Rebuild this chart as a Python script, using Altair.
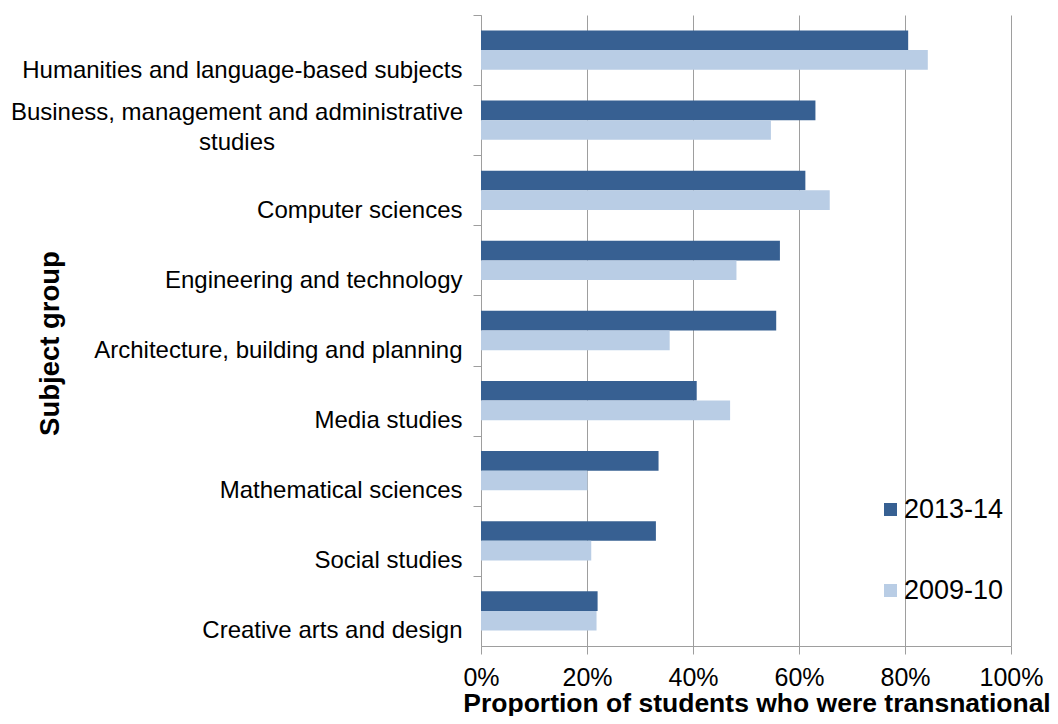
import altair as alt
import pandas as pd

categories = [
    "Humanities and language-based subjects",
    "Business, management and administrative studies",
    "Computer sciences",
    "Engineering and technology",
    "Architecture, building and planning",
    "Media studies",
    "Mathematical sciences",
    "Social studies",
    "Creative arts and design",
]
series_names = ["2013-14", "2009-10"]
values_2013_14 = [80.6, 63.1, 61.2, 56.4, 55.7, 40.7, 33.5, 33.0, 22.0]
values_2009_10 = [84.3, 54.7, 65.8, 48.2, 35.6, 47.0, 20.1, 20.8, 21.8]
series_colors = ["#376092", "#b9cde5"]
x_tick_values = [0, 0.2, 0.4, 0.6, 0.8, 1.0]

records = []
for cat, a, b in zip(categories, values_2013_14, values_2009_10):
    records.append({"subject": cat, "year": series_names[0], "share": a / 100})
    records.append({"subject": cat, "year": series_names[1], "share": b / 100})
df = pd.DataFrame(records)

wrapped = categories[1]
wrap_first = "Business, management and administrative"
wrap_second = "studies"
is_wrapped = f"datum.value == '{wrapped}'"
label_expr = f"{is_wrapped} ? ['{wrap_first}', '{wrap_second}'] : datum.label"

FONT = "Liberation Sans"
GRAY = "#9e9e9e"

PLOT_H = 631
P_IN = 0.44
P_OUT = 0.22
STEP = PLOT_H / (len(categories) - P_IN + 2 * P_OUT)
TICK_SHIFT = -P_OUT * STEP

chart = alt.Chart(df).mark_bar().encode(
    x=alt.X(
        "share:Q",
        scale=alt.Scale(domain=[0, 1], nice=False),
        axis=alt.Axis(
            values=x_tick_values,
            format=".0%",
            title="Proportion of students who were transnational",
            grid=True,
            gridColor=GRAY,
            domainColor=GRAY,
            tickColor=GRAY,
            tickSize=8,
            labelFlush=False,
            labelFontSize=25,
            labelBaseline="alphabetic",
            labelPadding=31,
            titleFontSize=26.5,
            titleFontWeight="bold",
            titleX=275.5,
            titleY=65,
            titleBaseline="alphabetic",
        ),
    ),
    y=alt.Y(
        "subject:N",
        sort=categories,
        scale=alt.Scale(paddingInner=P_IN, paddingOuter=P_OUT),
        axis=alt.Axis(
            title="Subject group",
            bandPosition=0,
            tickOffset=TICK_SHIFT,
            grid=False,
            domainColor=GRAY,
            tickColor=GRAY,
            tickSize=8,
            labelFontSize=24,
            labelLimit=0,
            labelExpr=label_expr,
            labelLineHeight=30,
            labelAlign={
                "condition": {"test": is_wrapped, "value": "center"},
                "value": "right",
            },
            labelPadding={
                "condition": {"test": is_wrapped, "value": 236.5},
                "value": 11,
            },
            labelOffset={
                "condition": {"test": is_wrapped, "value": -8 - TICK_SHIFT},
                "value": 20 - TICK_SHIFT,
            },
            titleFontSize=27.5,
            titleFontWeight="bold",
            titleX=-423,
            titleY=328,
            titleBaseline="alphabetic",
        ),
    ),
    yOffset=alt.YOffset(
        "year:N", sort=series_names, scale=alt.Scale(paddingInner=0, paddingOuter=0)
    ),
    color=alt.Color(
        "year:N",
        sort=series_names,
        scale=alt.Scale(domain=series_names, range=series_colors),
        legend=alt.Legend(
            title=None,
            orient="none",
            legendX=396,
            legendY=481,
            symbolType="square",
            symbolSize=169,
            symbolStrokeWidth=0,
            labelFontSize=27,
            labelOffset=0,
            rowPadding=53,
            padding=0,
        ),
    ),
).properties(
    width=530,
    height=PLOT_H,
    padding={"left": 473, "top": 7, "right": 39, "bottom": 70},
    autosize=alt.AutoSizeParams(type="none"),
).configure_view(
    stroke=None
).configure_axis(
    labelFont=FONT,
    titleFont=FONT,
    labelColor="#000000",
    titleColor="#000000",
).configure_legend(
    labelFont=FONT,
    labelColor="#000000",
)

chart.save("out.html", embed_options={"renderer": "svg", "actions": False})
